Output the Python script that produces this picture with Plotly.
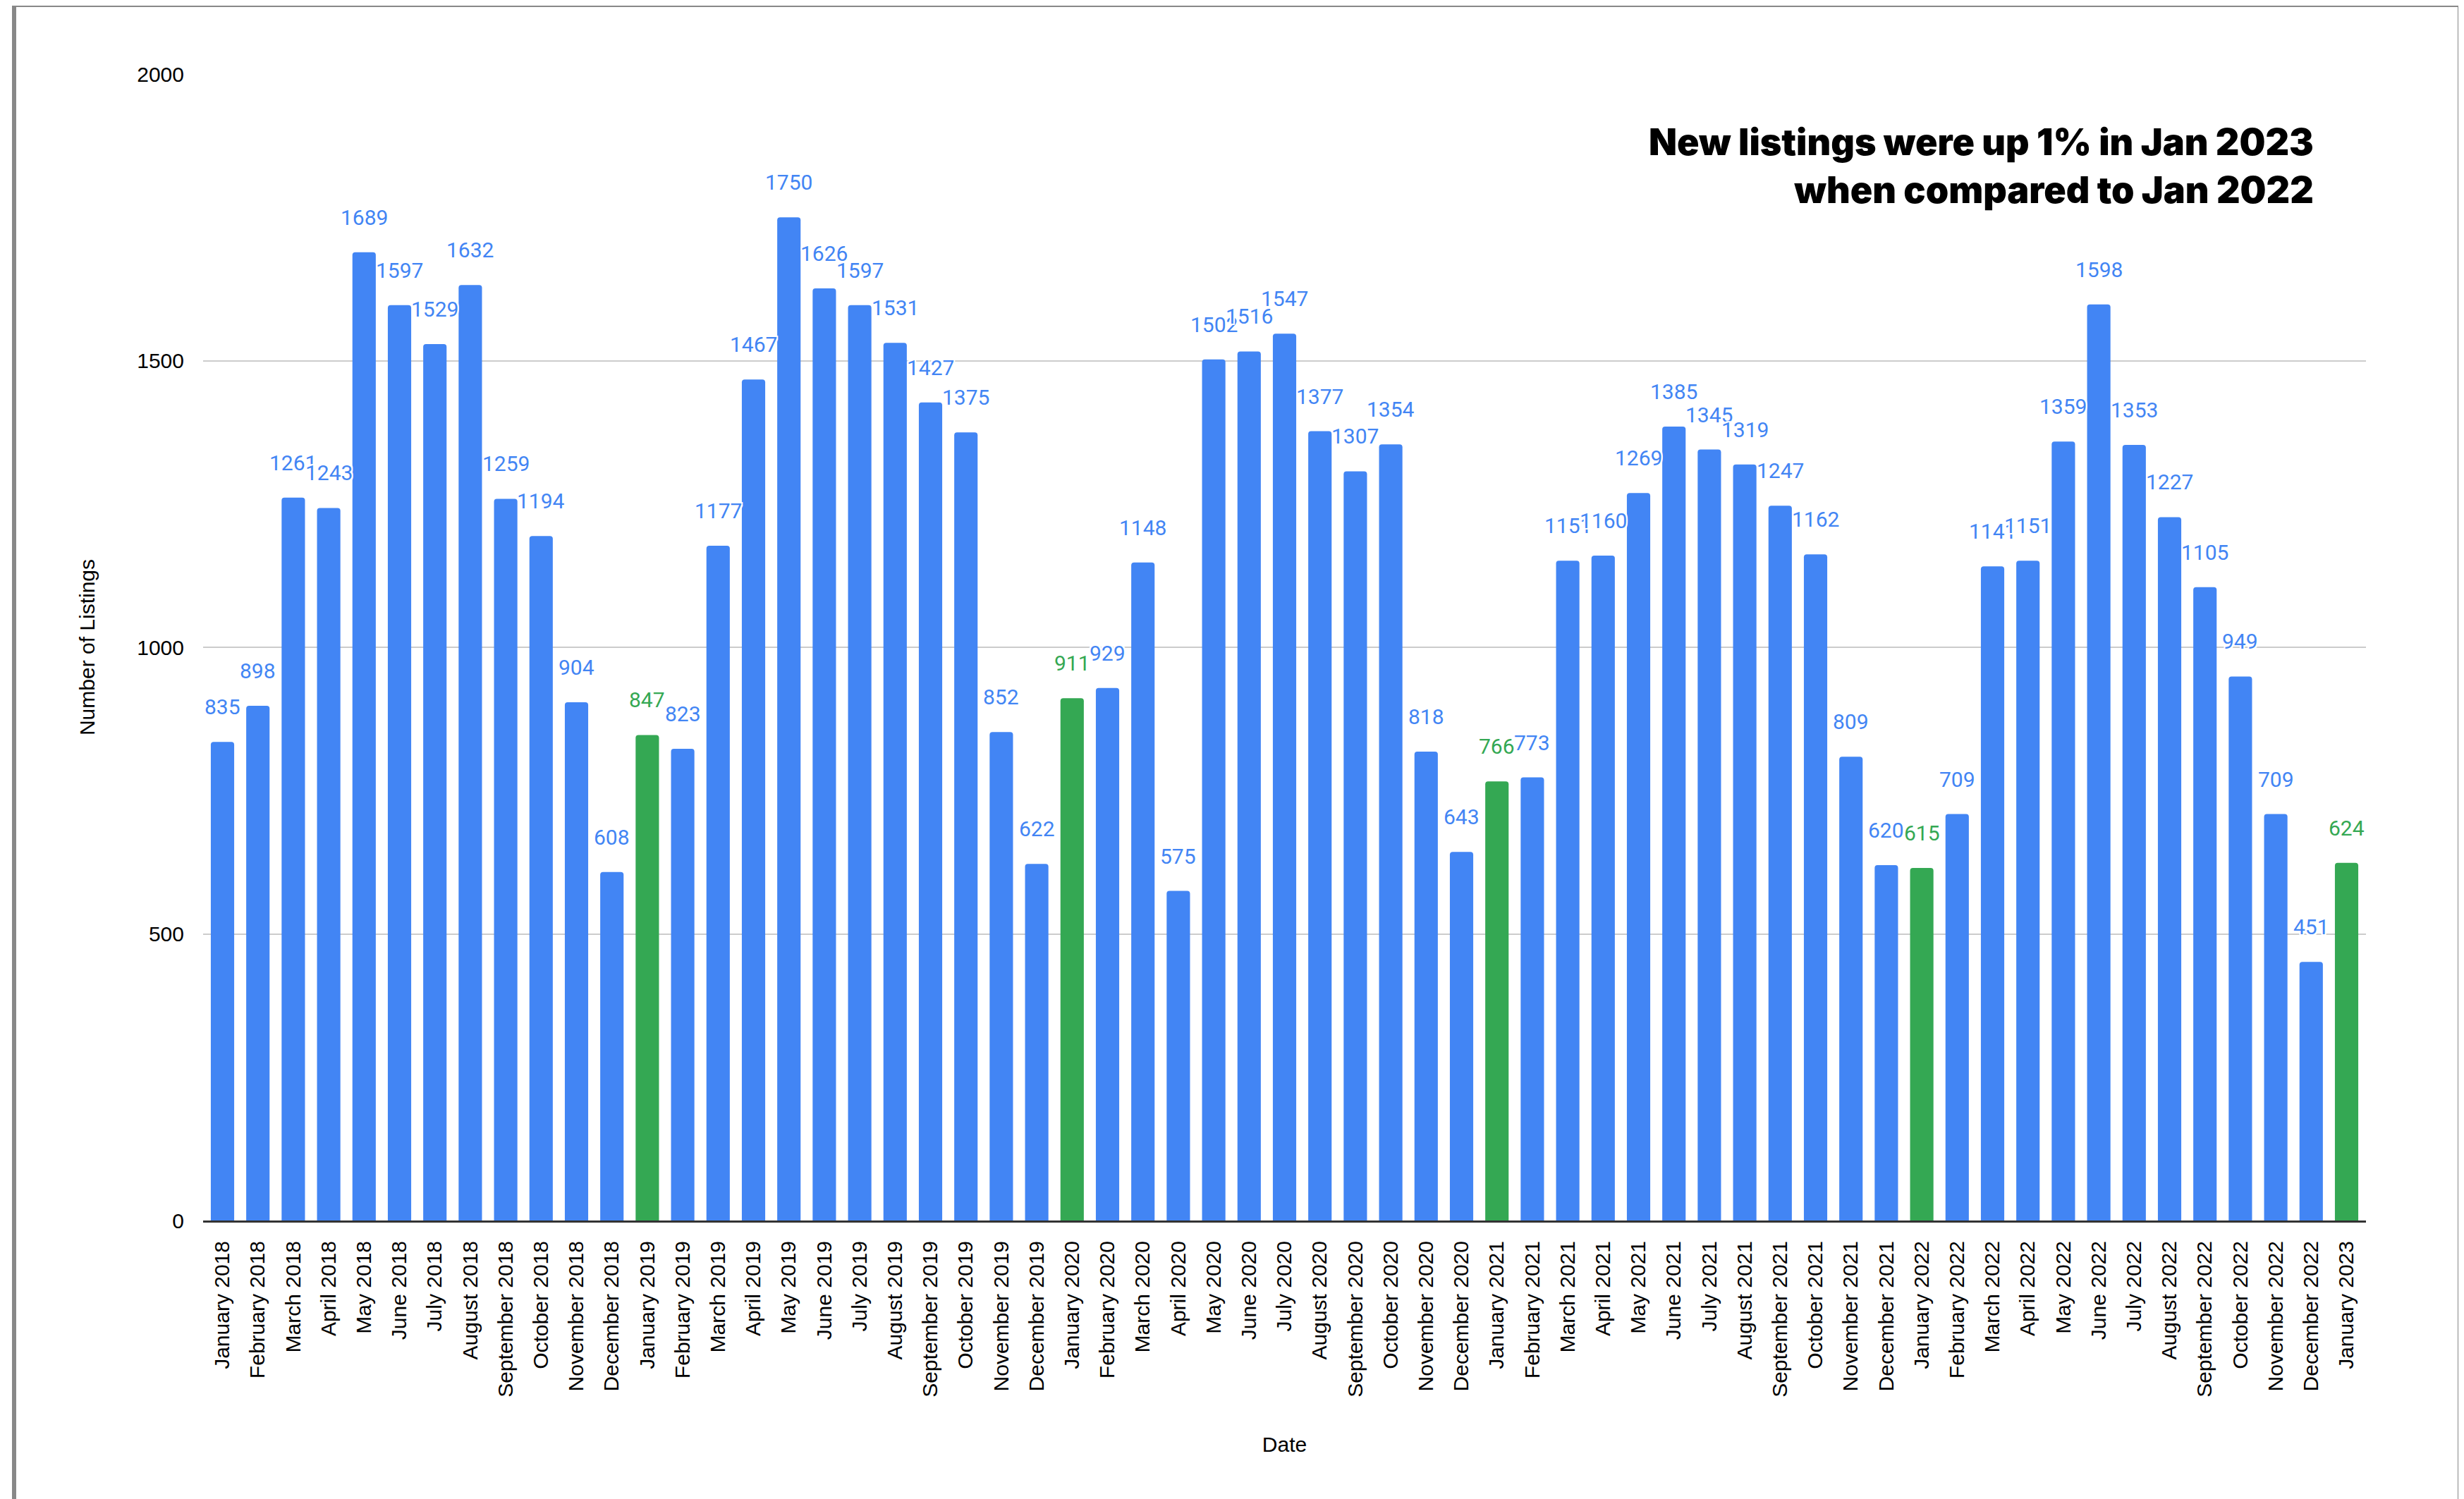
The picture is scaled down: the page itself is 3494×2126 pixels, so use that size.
import plotly.graph_objects as go

months = ["January", "February", "March", "April", "May", "June", "July",
          "August", "September", "October", "November", "December"]
years = [2018, 2019, 2020, 2021, 2022]

dates = [f"{m} {y}" for y in years for m in months] + ["January 2023"]

listings_2018 = [835, 898, 1261, 1243, 1689, 1597, 1529, 1632, 1259, 1194, 904, 608]
listings_2019 = [847, 823, 1177, 1467, 1750, 1626, 1597, 1531, 1427, 1375, 852, 622]
listings_2020 = [911, 929, 1148, 575, 1502, 1516, 1547, 1377, 1307, 1354, 818, 643]
listings_2021 = [766, 773, 1151, 1160, 1269, 1385, 1345, 1319, 1247, 1162, 809, 620]
listings_2022 = [615, 709, 1141, 1151, 1359, 1598, 1353, 1227, 1105, 949, 709, 451]
listings_2023 = [624]

values = listings_2018 + listings_2019 + listings_2020 + listings_2021 + listings_2022 + listings_2023

BLUE = "#4285F4"
GREEN = "#34A853"
colors = [GREEN if d.startswith("January") and d != "January 2018" else BLUE for d in dates]

title_lines = ["New listings were up 1% in Jan 2023", "when compared to Jan 2022"]

W, H = 3494, 2126
ML, MR, MT, MB = 280, 147, 97, 403
PW = W - ML - MR
PH = H - MT - MB


def px_x(px):
    return (px - ML) / PW


def px_y(py):
    return (H - MB - py) / PH


fig = go.Figure()
fig.add_trace(go.Bar(
    x=dates, y=values,
    marker=dict(color=colors, line=dict(width=0)),
    hoverinfo="x+y",
))

halo = ("-2px -2px 0 #fff, 2px -2px 0 #fff, -2px 2px 0 #fff, 2px 2px 0 #fff, "
        "0 -2px 0 #fff, 0 2px 0 #fff, -2px 0 0 #fff, 2px 0 0 #fff")
annotations = []
for d, v, c in zip(dates, values, colors):
    annotations.append(dict(
        x=d, y=v, xref="x", yref="y", text=str(v), showarrow=False,
        yanchor="bottom", xanchor="center", yshift=30,
        font=dict(family="Roboto", size=30, color=c, shadow=halo),
    ))

annotations.append(dict(
    xref="paper", yref="paper", x=px_x(3275), y=px_y(160),
    xanchor="right", yanchor="top", align="right", showarrow=False,
    text="<br>".join(title_lines),
    font=dict(family="Inter", size=52, color="#000000", weight=900),
))

fig.update_layout(
    width=W, height=H,
    margin=dict(l=ML, r=MR, t=MT, b=MB),
    paper_bgcolor="white", plot_bgcolor="white",
    bargap=0.34,
    barcornerradius=4,
    showlegend=False,
    annotations=annotations,
    shapes=[dict(
        type="rect", xref="paper", yref="paper",
        x0=px_x(12), x1=px_x(3480), y0=px_y(2140), y1=px_y(-1),
        line=dict(color="#888888", width=6), fillcolor="rgba(0,0,0,0)",
        layer="below",
    )],
    xaxis=dict(
        type="category",
        tickangle=-90,
        tickfont=dict(family="Liberation Sans", size=30, color="#000000"),
        ticks="outside", ticklen=14, tickcolor="rgba(0,0,0,0)",
        showgrid=False,
        showline=True, linecolor="#333333", linewidth=3,
        title=dict(text="Date", font=dict(family="Liberation Sans", size=30, color="#000000"),
                   standoff=58),
    ),
    yaxis=dict(
        range=[0, 2000],
        tickvals=[0, 500, 1000, 1500, 2000],
        tickfont=dict(family="Liberation Sans", size=30, color="#000000"),
        ticks="outside", ticklen=20, tickcolor="rgba(0,0,0,0)",
        showgrid=True, gridcolor="#cccccc", gridwidth=2,
        zeroline=False,
        title=dict(text="Number of Listings",
                   font=dict(family="Liberation Sans", size=30, color="#000000"),
                   standoff=50),
    ),
)

fig.write_html("out.html")
